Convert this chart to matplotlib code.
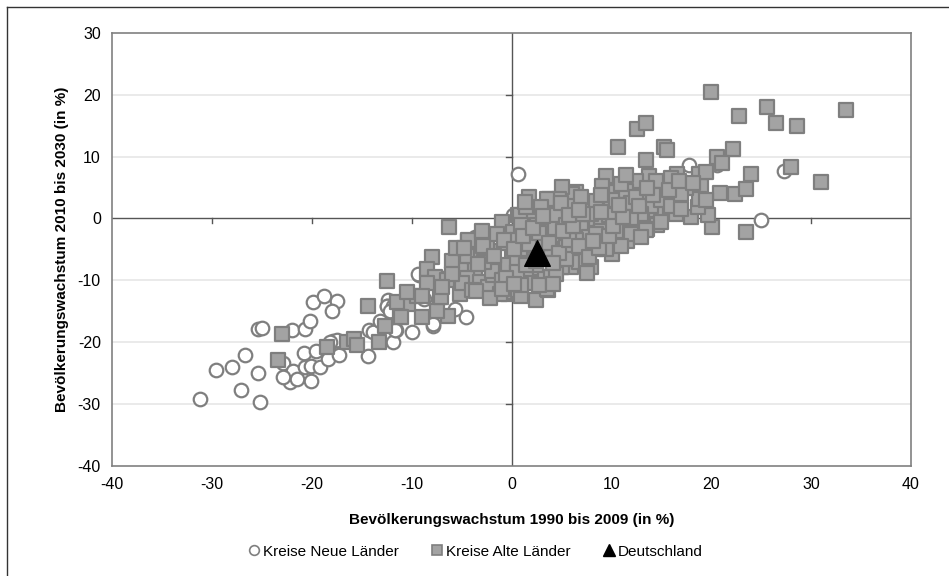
import matplotlib.pyplot as plt
from matplotlib.lines import Line2D

plt.rcParams['font.family'] = ['Liberation Sans', 'DejaVu Sans']
plt.rcParams['axes.unicode_minus'] = False

# Kreise Neue Länder (x: 1990-2009, y: 2010-2030)
neue_x = [-31.2, -25.2, -27.1, -29.6, -28.0, -26.7, -25.4, -25.4, -25.0, -22.0,
          -22.9, -22.7, -22.2, -21.9, -22.9, -21.5, -20.7, -20.2, -19.9, -18.8,
          -17.5, -18.0, -20.8, -19.6, -20.7, -20.1, -19.2, -20.1, -18.4, -17.3,
          -17.9, -17.5, -18.2, -14.4, -14.3, -13.9, -13.2, -12.4, -12.5, -11.9,
          -11.6, -10.0, -9.3, -7.9, -4.6, -9.4, -6.5, -3.7, -12.5, -11.9,
          -12.2, -5.7, -11.7, -7.9, 0.6, 17.8, 20.6, 27.3, 25.0, 0.1,
          -8.8, -1.5, -0.8]
neue_y = [-29.2, -29.7, -27.7, -24.5, -24.0, -22.0, -24.9, -17.8, -17.7, -18.1,
          -23.4, -25.7, -26.5, -24.6, -25.6, -26.0, -17.8, -16.5, -13.5, -12.5,
          -13.4, -15.0, -21.8, -21.4, -24.0, -23.9, -24.0, -26.2, -22.7, -22.0,
          -19.8, -19.7, -19.9, -22.3, -18.0, -18.4, -16.5, -13.2, -14.2, -19.9,
          -18.0, -18.4, -9.2, -17.3, -15.9, -8.9, -9.5, -3.0, -14.1, -14.1,
          -14.9, -14.6, -18.1, -17.0, 7.2, 8.6, 8.6, 7.6, -0.2, 0.6,
          -13.0, -3.2, -2.0]

# Kreise Alte Länder
alte_x = [20.0, 22.8, 25.6, 26.5, 28.6, 33.5, 10.7, 12.6, 13.5, 15.3,
          15.6, 13.5, 22.2, 20.6, 21.1, 24.0, 28.0, 31.0, 20.9, 22.4,
          23.5, 20.1, 23.5, 19.7, 18.0, 18.8, 19.0, 19.5, 18.7, 18.8,
          16.6, 16.8, 16.5, 14.5, 14.6, 13.6, 13.8, 12.5, 14.6, 12.8,
          11.8, 10.3, 9.5, 10.0, 8.5, 8.1, 9.1, 6.5, 6.1, 5.1,
          3.8, 4.8, 2.1, 1.8, 0.6, 0.3, 2.6, 3.3, 4.6, 6.8,
          7.5, 8.5, 9.5, 10.8, 11.6, 2.5, 3.7, 3.0, 0.3, -0.4,
          5.0, 6.0, 7.3, 9.5, 10.1, 13.5, 11.6, 3.6, 5.5, 7.1,
          5.1, 3.6, -0.5, 10.6, 10.0, 0.0, 0.8,
          -6.3, -12.5, -4.4, -2.2, -1.0, 0.1, -8.0, -8.5, -7.7, -5.7,
          -5.0, -3.7, -4.5, -3.2, -2.4, -1.9, -0.4, -1.2, -5.2, -7.2,
          -6.4, -7.5, -9.0, -10.4, -11.5, -11.2, -12.7, -6.5, -3.1, -3.9,
          -6.0, -2.5, -4.5, -2.0, 0.6, -13.3, -11.1, -9.5, -10.5, -14.4,
          -16.5, -15.8, -15.5, -18.5, -23.0, -23.4, -2.9, -4.4, -7.1,
          1.0, 1.5, 2.0, 3.5, 4.0, 4.5, 5.5, 5.8, 6.5, 7.0,
          7.8, 8.5, 9.0, 9.8, 10.5, 11.0, 11.5, 12.0, 13.0, 14.0,
          15.0, 15.5, 16.0, 17.5, 17.0, 13.0, 12.0, 9.0, 8.0, 6.0,
          4.0, 2.0, 1.0, 3.0, 5.0, 7.0, 9.0, 11.0, 12.5, -1.5,
          -3.0, -2.0, -1.0, 0.5, 1.5, 4.0, 6.8, 8.0, -5.0, -4.0,
          -6.0, -8.5, -9.0, -7.0, 3.0, 2.0, 1.0, 14.5, 16.0, 15.0,
          17.0, 19.5, 11.5, 12.0, 10.5, 5.5, 7.5, 9.5, 11.0, 13.0,
          2.5, 4.5, 6.5, 8.5, 1.5, 3.0, -0.5, 0.5,
          0.8, 1.8, 2.8, 3.8, 4.8, 5.8, 6.8, 7.8, 8.8, 9.8,
          0.5, 1.5, 2.5, 4.2, 5.2, 6.2, 7.2, 8.2, 10.2, 11.2,
          -0.8, 0.2, 1.2, 2.2, 3.2, 5.8, 6.8, 9.0, 12.8, 14.2,
          -2.8, -1.8, -0.6, 1.0, 2.8, 4.2, 7.6, 10.8, 13.6, 15.8,
          -3.6, -2.2, -1.0, 0.2, -5.6, -4.8, -3.4, 1.4, 16.8, 18.2]
alte_y = [20.4, 16.6, 18.0, 15.5, 15.0, 17.6, 11.5, 14.4, 15.5, 11.5,
          11.0, 9.4, 11.2, 9.9, 9.0, 7.2, 8.3, 5.9, 4.1, 4.0,
          4.7, -1.4, -2.2, 0.5, 0.2, 7.2, 5.2, 7.5, 1.8, 3.2,
          7.2, 3.7, 0.8, 1.3, -1.1, -1.7, 6.9, 6.1, 4.3, -0.1,
          1.3, 4.3, 6.9, 1.8, -0.1, 2.6, 5.3, 4.3, 4.0, 5.1,
          3.2, 3.2, 1.0, 3.4, 0.5, -2.2, -1.1, -3.6, -3.0, -2.5,
          1.3, 2.9, -3.6, -3.6, -3.6, -13.1, -11.5, -9.5, -9.2, -12.2,
          -7.9, -7.9, -4.6, -3.8, -5.7, -1.9, 1.6, 3.2, -4.6, -6.0,
          -7.9, -11.4, -11.9, -3.6, -0.9, -5.7, 0.5,
          -1.3, -10.1, -3.6, -5.2, -0.6, -2.2, -6.2, -8.1, -9.5, -7.6,
          -7.6, -8.1, -9.7, -10.3, -11.1, -9.2, -7.6, -12.2, -12.2, -12.7,
          -15.7, -14.9, -15.9, -13.8, -13.5, -15.9, -17.3, -10.0, -6.2, -6.0,
          -6.8, -4.4, -6.0, -7.9, -11.6, -20.0, -16.0, -12.5, -11.9, -14.2,
          -19.9, -19.4, -20.5, -20.8, -18.6, -22.8, -4.4, -3.4, -12.7,
          -4.0, -6.5, -8.0, -6.0, -1.5, 0.5, -1.0, 2.0, 0.0, -1.5,
          -3.0, -5.0, -1.0, 0.5, 3.0, -1.5, 4.5, 2.5, 3.5, 2.0,
          3.0, 5.5, 2.0, 5.0, 1.5, 0.8, -2.5, -2.0, 0.8, -5.5,
          -5.0, -3.0, -1.0, 1.8, 2.5, 3.5, 3.8, 5.5, 3.5, -2.5,
          -2.0, -8.5, -10.0, -7.0, -9.5, -9.5, -7.0, -7.8, -10.5, -11.5,
          -9.0, -10.5, -12.5, -11.0, -4.0, -10.5, -12.5, 6.0, 6.5, -0.5,
          4.0, 3.0, 7.0, 0.0, -2.0, -6.5, -6.8, -5.0, -4.5, -3.0,
          -7.5, -9.0, -3.5, -2.5, 1.8, -2.0, -4.0, -3.5,
          -5.0, -4.2, -2.4, -4.0, -5.6, -3.4, -4.4, -6.2, -4.8, -2.8,
          -8.6, -7.6, -6.8, -7.2, -2.0, -1.2, 0.8, -3.6, -1.2, 0.2,
          -3.4, -5.0, -2.8, -1.6, 0.4, 0.6, 1.4, 1.0, 2.0, 3.8,
          -7.0, -6.0, -9.6, -10.8, -10.8, -10.6, -8.8, 2.2, 5.0, 4.6,
          -11.8, -12.8, -11.4, -10.6, -4.8, -4.8, -7.4, 2.6, 6.0, 5.8]

de_x = [2.6]
de_y = [-5.5]

xticks = [-40, -30, -20, -10, 0, 10, 20, 30, 40]
yticks = [-40, -30, -20, -10, 0, 10, 20, 30]

fig = plt.figure(figsize=(9.49, 5.76), dpi=100)
ax = fig.add_axes([0.118, 0.191, 0.842, 0.752])

for t in yticks:
    if t not in (0, -40, 30):
        ax.axhline(t, color='#e6e6e6', lw=1.2, zorder=0)

ax.axhline(0, color='#555555', lw=1, zorder=1)
ax.axvline(0, color='#555555', lw=1, zorder=1)
for t in xticks:
    if t not in (0, -40, 40):
        ax.plot([t, t], [0, -0.8], color='#555555', lw=1, zorder=1)
for t in yticks:
    if t not in (0, -40, 30):
        ax.plot([0, -0.55], [t, t], color='#555555', lw=1, zorder=1)

ax.scatter(neue_x, neue_y, s=95, marker='o', facecolor='white',
           edgecolor='#7f7f7f', linewidths=1.6, zorder=2)
ax.scatter(alte_x, alte_y, s=115, marker='s', facecolor='#a3a3a3',
           edgecolor='#7f7f7f', linewidths=1.6, zorder=3)
ax.scatter(de_x, de_y, s=340, marker='^', color='black', zorder=4)

ax.set_xlim(-40, 40)
ax.set_ylim(-40, 30)
ax.set_xticks(xticks)
ax.set_yticks(yticks)
ax.tick_params(length=0, labelsize=11.5, pad=8)
for s in ax.spines.values():
    s.set_color('#808080')
    s.set_linewidth(1.2)

ax.set_xlabel('Bevölkerungswachstum 1990 bis 2009 (in %)', fontsize=11,
              fontweight='bold', labelpad=15)
ax.set_ylabel('Bevölkerungswachstum 2010 bis 2030 (in %)', fontsize=11,
              fontweight='bold', labelpad=6)

handles = [
    Line2D([0], [0], marker='o', ls='', markerfacecolor='white',
           markeredgecolor='#7f7f7f', markersize=7, markeredgewidth=1.2),
    Line2D([0], [0], marker='s', ls='', markerfacecolor='#a3a3a3',
           markeredgecolor='#7f7f7f', markersize=7, markeredgewidth=1.2),
    Line2D([0], [0], marker='^', ls='', color='black', markersize=8),
]
fig.legend(handles, ['Kreise Neue Länder', 'Kreise Alte Länder', 'Deutschland'],
           loc='center', bbox_to_anchor=(0.5, 0.042), ncol=3, frameon=False,
           fontsize=11, handletextpad=0.1, columnspacing=2.0, handlelength=1.0)

# outer frame (top and left)
fig.add_artist(Line2D([7 / 949, 1], [1 - 7 / 576, 1 - 7 / 576],
                      transform=fig.transFigure, color='#333333', lw=1))
fig.add_artist(Line2D([7 / 949, 7 / 949], [0, 1 - 7 / 576],
                      transform=fig.transFigure, color='#333333', lw=1))

fig.savefig('out.png', dpi=100)
